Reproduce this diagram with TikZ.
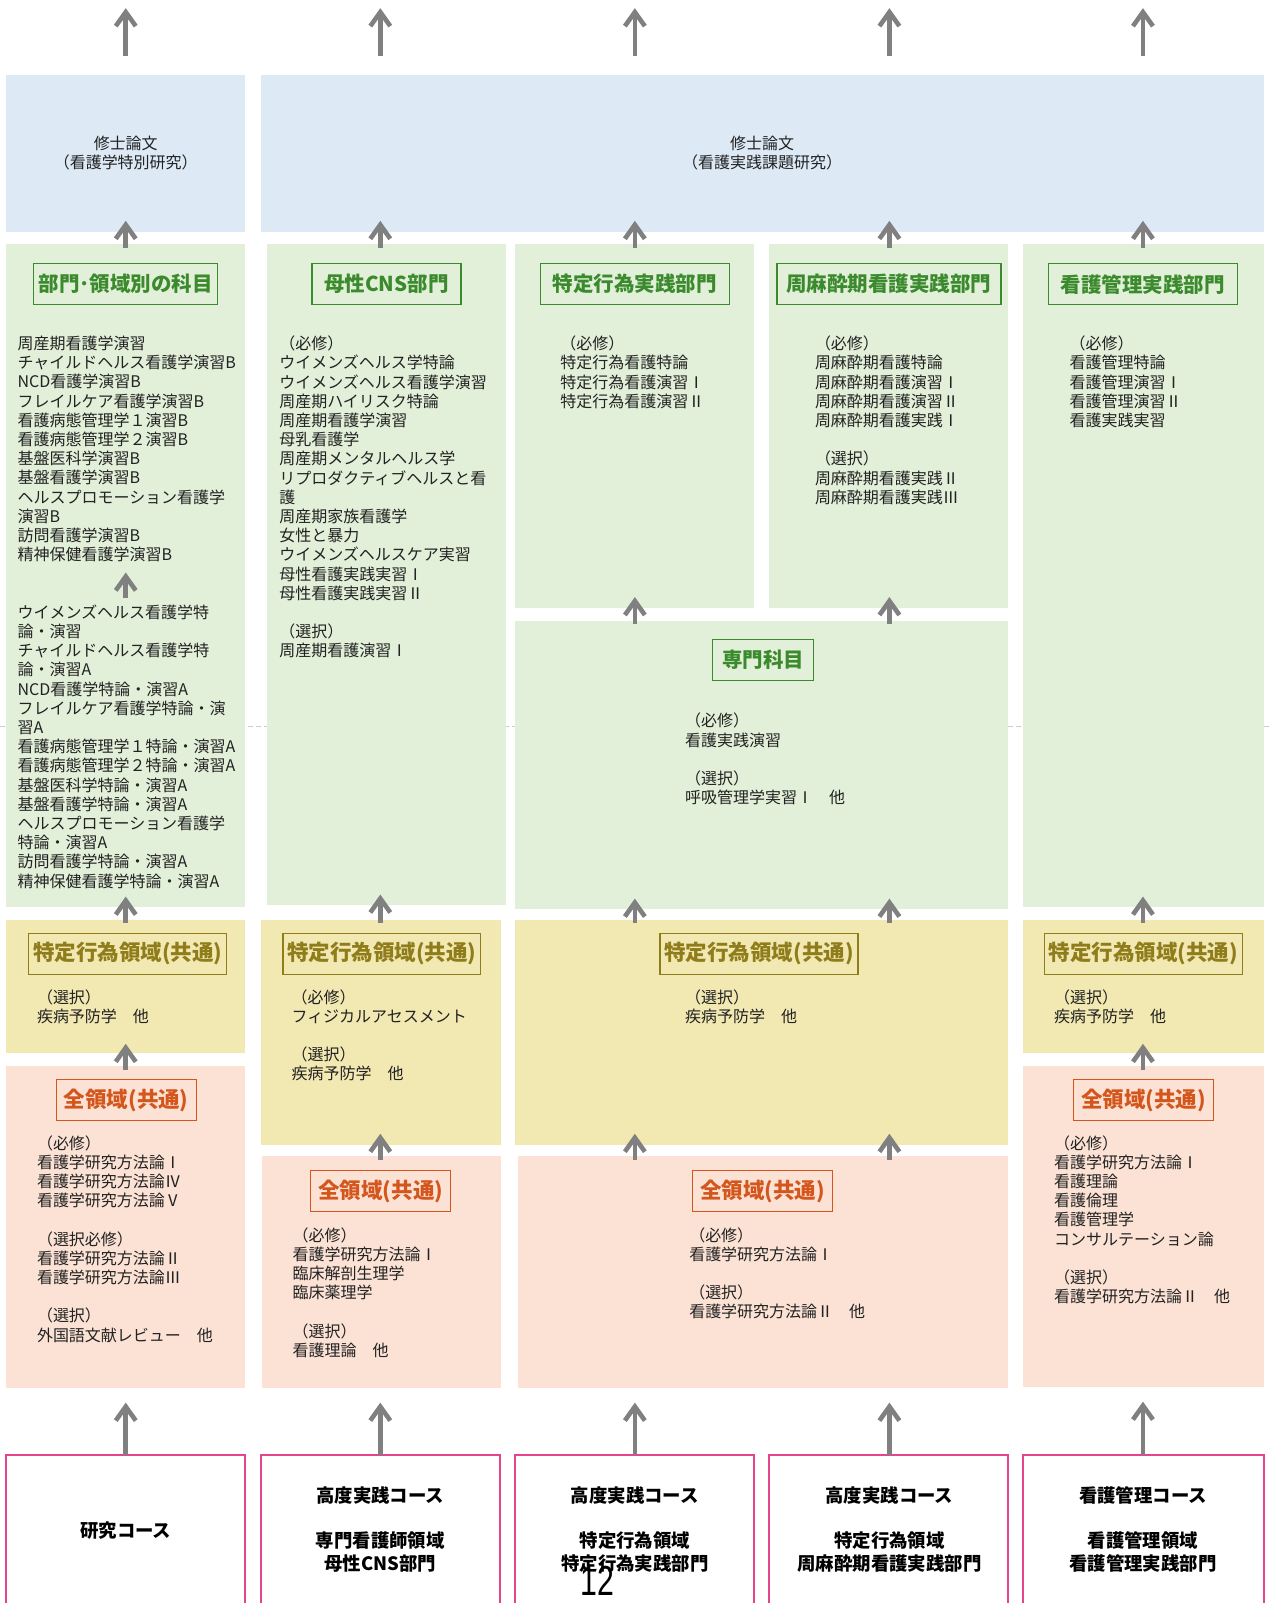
\documentclass[tikz,border=0pt]{standalone}
\usepackage{fontspec}
\usetikzlibrary{arrows.meta,calc,fit}
\newfontfamily\jp{Noto Sans CJK JP}
\newfontfamily\numfont[FakeStretch=0.72]{Liberation Sans}
\definecolor{bluebg}{HTML}{DDEAF6}
\definecolor{greenbg}{HTML}{E2F0D9}
\definecolor{yelbg}{HTML}{F2E8B2}
\definecolor{pinkbg}{HTML}{FBE2D5}
\definecolor{grhd}{HTML}{3B8A2E}
\definecolor{yehd}{HTML}{8F7D1C}
\definecolor{orhd}{HTML}{D4561C}
\definecolor{mag}{HTML}{E8438F}
\definecolor{arrgray}{HTML}{808080}
\definecolor{txt}{HTML}{222222}
\definecolor{dashgray}{HTML}{CCCCCC}
\begin{document}
\begin{tikzpicture}[x=1.0225pt,y=-1.0225pt,
  area/.style={inner sep=0pt,outer sep=0pt,draw=none},
  lst/.style={anchor=north west,inner sep=0pt,align=left,text=txt,font=\jp\fontsize{16}{19.2}\selectfont},
  bluetxt/.style={align=center,inner sep=0pt,text=txt,font=\jp\fontsize{16}{19}\selectfont},
  hd/.style={draw,line width=1.3pt,inner sep=0pt,minimum height=41pt,font=\jp\bfseries\fontsize{20.5}{24}\selectfont},
  hdg/.style={hd,draw=grhd,text=grhd},
  hdy/.style={hd,draw=yehd,text=yehd,font=\jp\bfseries\fontsize{21.5}{24}\selectfont},
  hdo/.style={hd,draw=orhd,text=orhd,font=\jp\bfseries\fontsize{21.5}{24}\selectfont},
  course/.style={align=center,inner sep=0pt,text=black,font=\jp\bfseries\fontsize{18.4}{22.5}\selectfont},
  arr/.style={draw=arrgray,line width=4.6pt,-{Straight Barb[length=14pt,width=20pt]}}]
\useasboundingbox (0,0) rectangle (1243,1568);
\fill[white] (0,0) rectangle (1243,1568);
\draw[dashgray,line width=1.2pt,dash pattern=on 5pt off 3pt] (0,711) -- (1243,711);
% column axes
\coordinate (c1) at (123,0);
\coordinate (c2) at (372,0);
\coordinate (c3) at (621,0);
\coordinate (c4) at (870,0);
\coordinate (c5) at (1118,0);
% blue
\node[area,fill=bluebg,fit={(6,73)(240,227)}] (bl1) {};
\node[area,fill=bluebg,fit={(255,73)(1236,227)}] (bl2) {};
% green
\node[area,fill=greenbg,fit={(6,239)(240,887)}] (g1) {};
\node[area,fill=greenbg,fit={(261,239)(495,885)}] (g2) {};
\node[area,fill=greenbg,fit={(504,239)(738,595)}] (g3) {};
\node[area,fill=greenbg,fit={(752,239)(986,595)}] (g4) {};
\node[area,fill=greenbg,fit={(1001,239)(1236,887)}] (g5) {};
\node[area,fill=greenbg,fit={(504,607)(986,889)}] (g34) {};
% yellow
\node[area,fill=yelbg,fit={(6,900)(240,1030)}] (y1) {};
\node[area,fill=yelbg,fit={(255,900)(490,1120)}] (y2) {};
\node[area,fill=yelbg,fit={(504,900)(986,1120)}] (y34) {};
\node[area,fill=yelbg,fit={(1001,900)(1236,1030)}] (y5) {};
% pink
\node[area,fill=pinkbg,fit={(6,1043)(240,1358)}] (p1) {};
\node[area,fill=pinkbg,fit={(256,1131)(490,1358)}] (p2) {};
\node[area,fill=pinkbg,fit={(507,1131)(986,1358)}] (p34) {};
\node[area,fill=pinkbg,fit={(1001,1043)(1236,1357)}] (p5) {};
% bottom course boxes
\node[area,draw=mag,line width=2pt,fill=white,fit={(6,1423)(240,1600)}] (b1) {};
\node[area,draw=mag,line width=2pt,fill=white,fit={(255,1423)(489,1600)}] (b2) {};
\node[area,draw=mag,line width=2pt,fill=white,fit={(504,1423)(738,1600)}] (b3) {};
\node[area,draw=mag,line width=2pt,fill=white,fit={(752,1423)(986,1600)}] (b4) {};
\node[area,draw=mag,line width=2pt,fill=white,fit={(1001,1423)(1236,1600)}] (b5) {};
% blue texts
\node[bluetxt] (bl1t) at (bl1.center) {修士論文\\（看護学特別研究）};
\node[bluetxt] (bl2t) at (bl2.center) {修士論文\\（看護実践課題研究）};
% headings
\node[hdg,minimum width=184pt] (h1) at (123,278) {部門･領域別の科目};
\node[hdg,minimum width=149pt] (h2) at (378,278) {母性CNS部門};
\node[hdg,minimum width=189pt] (h3) at (621,278) {特定行為実践部門};
\node[hdg,minimum width=224pt] (h4) at (869.5,278) {周麻酔期看護実践部門};
\node[hdg,minimum width=189pt] (h5) at (1118,278) {看護管理実践部門};
\node[hdg,minimum width=101pt] (h34) at (746.5,645.5) {専門科目};
\node[hdy,minimum width=198pt] (hy1) at (125,933) {特定行為領域(共通)};
\node[hdy,minimum width=198pt] (hy2) at (373.5,933) {特定行為領域(共通)};
\node[hdy,minimum width=198pt] (hy34) at (742.5,933) {特定行為領域(共通)};
\node[hdy,minimum width=198pt] (hy5) at (1118.5,933) {特定行為領域(共通)};
\node[hdo,minimum width=140pt] (hp1) at (123.5,1076) {全領域(共通)};
\node[hdo,minimum width=140pt] (hp2) at (372.5,1165) {全領域(共通)};
\node[hdo,minimum width=140pt] (hp34) at (746,1165) {全領域(共通)};
\node[hdo,minimum width=140pt] (hp5) at (1118.5,1076) {全領域(共通)};
% lists
\node[lst] (g1t) at (17,328.5) {周産期看護学演習\\チャイルドヘルス看護学演習B\\NCD看護学演習B\\フレイルケア看護学演習B\\看護病態管理学１演習B\\看護病態管理学２演習B\\基盤医科学演習B\\基盤看護学演習B\\ヘルスプロモーション看護学\\演習B\\訪問看護学演習B\\精神保健看護学演習B\\[38.4pt]ウイメンズヘルス看護学特\\論・演習\\チャイルドヘルス看護学特\\論・演習A\\NCD看護学特論・演習A\\フレイルケア看護学特論・演\\習A\\看護病態管理学１特論・演習A\\看護病態管理学２特論・演習A\\基盤医科学特論・演習A\\基盤看護学特論・演習A\\ヘルスプロモーション看護学\\特論・演習A\\訪問看護学特論・演習A\\精神保健看護学特論・演習A};
\node[lst] (g2t) at (273,328.5) {（必修）\\ウイメンズヘルス学特論\\ウイメンズヘルス看護学演習\\周産期ハイリスク特論\\周産期看護学演習\\母乳看護学\\周産期メンタルヘルス学\\リプロダクティブヘルスと看\\護\\周産期家族看護学\\女性と暴力\\ウイメンズヘルスケア実習\\母性看護実践実習Ⅰ\\母性看護実践実習Ⅱ\\[19.2pt]（選択）\\周産期看護演習Ⅰ};
\node[lst] (g3t) at (548,328.5) {（必修）\\特定行為看護特論\\特定行為看護演習Ⅰ\\特定行為看護演習Ⅱ};
\node[lst] (g4t) at (797,328.5) {（必修）\\周麻酔期看護特論\\周麻酔期看護演習Ⅰ\\周麻酔期看護演習Ⅱ\\周麻酔期看護実践Ⅰ\\[19.2pt]（選択）\\周麻酔期看護実践Ⅱ\\周麻酔期看護実践Ⅲ};
\node[lst] (g5t) at (1046,328.5) {（必修）\\看護管理特論\\看護管理演習Ⅰ\\看護管理演習Ⅱ\\看護実践実習};
\node[lst] (g34t) at (670,697.5) {（必修）\\看護実践演習\\[19.2pt]（選択）\\呼吸管理学実習Ⅰ　他};
\node[lst] (y1t) at (36,967.5) {（選択）\\疾病予防学　他};
\node[lst] (y2t) at (285,967.5) {（必修）\\フィジカルアセスメント\\[19.2pt]（選択）\\疾病予防学　他};
\node[lst] (y34t) at (670,967.5) {（選択）\\疾病予防学　他};
\node[lst] (y5t) at (1031,967.5) {（選択）\\疾病予防学　他};
\node[lst] (p1t) at (36,1110.5) {（必修）\\看護学研究方法論Ⅰ\\看護学研究方法論Ⅳ\\看護学研究方法論Ⅴ\\[19.2pt]（選択必修）\\看護学研究方法論Ⅱ\\看護学研究方法論Ⅲ\\[19.2pt]（選択）\\外国語文献レビュー　他};
\node[lst] (p2t) at (286,1200.5) {（必修）\\看護学研究方法論Ⅰ\\臨床解剖生理学\\臨床薬理学\\[19.2pt]（選択）\\看護理論　他};
\node[lst] (p34t) at (674,1200.5) {（必修）\\看護学研究方法論Ⅰ\\[19.2pt]（選択）\\看護学研究方法論Ⅱ　他};
\node[lst] (p5t) at (1031,1110.5) {（必修）\\看護学研究方法論Ⅰ\\看護理論\\看護倫理\\看護管理学\\コンサルテーション論\\[19.2pt]（選択）\\看護学研究方法論Ⅱ　他};
% course texts
\node[course] (b1t) at (123,1497) {研究コース};
\node[course] (b2t) at (372,1496) {高度実践コース\\[22.5pt]専門看護師領域\\母性CNS部門};
\node[course] (b3t) at (621,1496) {高度実践コース\\[22.5pt]特定行為領域\\特定行為実践部門};
\node[course] (b4t) at (870,1496) {高度実践コース\\[22.5pt]特定行為領域\\周麻酔期看護実践部門};
\node[course] (b5t) at (1118,1496) {看護管理コース\\[22.5pt]看護管理領域\\看護管理実践部門};
% page number
\node[inner sep=0pt,font=\numfont\fontsize{42}{42}\selectfont,text=black] (pg) at (584,1546) {12};
% arrows: top free ends
\coordinate (t1) at (123,8);
\coordinate (t2) at (372,8);
\coordinate (t3) at (621,8);
\coordinate (t4) at (870,8);
\coordinate (t5) at (1118,8);
\draw[arr] ($(c1 |- bl1.north)+(0,-18)$) -- (t1);
\draw[arr] ($(c2 |- bl2.north)+(0,-18)$) -- (t2);
\draw[arr] ($(c3 |- bl2.north)+(0,-18)$) -- (t3);
\draw[arr] ($(c4 |- bl2.north)+(0,-18)$) -- (t4);
\draw[arr] ($(c5 |- bl2.north)+(0,-18)$) -- (t5);
% green -> blue
\draw[arr] ($(c1 |- g1.north)+(0,4)$) -- ($(c1 |- bl1.south)+(0,-11)$);
\draw[arr] ($(c2 |- g2.north)+(0,4)$) -- ($(c2 |- bl2.south)+(0,-11)$);
\draw[arr] ($(c3 |- g3.north)+(0,4)$) -- ($(c3 |- bl2.south)+(0,-11)$);
\draw[arr] ($(c4 |- g4.north)+(0,4)$) -- ($(c4 |- bl2.south)+(0,-11)$);
\draw[arr] ($(c5 |- g5.north)+(0,4)$) -- ($(c5 |- bl2.south)+(0,-11)$);
% inside g1
\coordinate (g1lo) at (123,585);
\coordinate (g1hi) at (123,560);
\draw[arr] (g1lo) -- (g1hi);
% g34 -> g3, g4
\draw[arr] ($(c3 |- g34.north)+(0,3)$) -- ($(c3 |- g3.south)+(0,-11)$);
\draw[arr] ($(c4 |- g34.north)+(0,3)$) -- ($(c4 |- g4.south)+(0,-11)$);
% yellow -> green
\draw[arr] ($(c1 |- y1.north)+(0,3)$) -- ($(c1 |- g1.south)+(0,-10)$);
\draw[arr] ($(c2 |- y2.north)+(0,3)$) -- ($(c2 |- g2.south)+(0,-10)$);
\draw[arr] ($(c3 |- y34.north)+(0,3)$) -- ($(c3 |- g34.south)+(0,-10)$);
\draw[arr] ($(c4 |- y34.north)+(0,3)$) -- ($(c4 |- g34.south)+(0,-10)$);
\draw[arr] ($(c5 |- y5.north)+(0,3)$) -- ($(c5 |- g5.south)+(0,-10)$);
% pink -> yellow
\draw[arr] ($(c1 |- p1.north)+(0,4)$) -- ($(c1 |- y1.south)+(0,-9)$);
\draw[arr] ($(c2 |- p2.north)+(0,4)$) -- ($(c2 |- y2.south)+(0,-11)$);
\draw[arr] ($(c3 |- p34.north)+(0,4)$) -- ($(c3 |- y34.south)+(0,-11)$);
\draw[arr] ($(c4 |- p34.north)+(0,4)$) -- ($(c4 |- y34.south)+(0,-11)$);
\draw[arr] ($(c5 |- p5.north)+(0,4)$) -- ($(c5 |- y5.south)+(0,-9)$);
% course -> pink
\draw[arr] (c1 |- b1.north) -- ($(c1 |- p1.south)+(0,14)$);
\draw[arr] (c2 |- b2.north) -- ($(c2 |- p2.south)+(0,14)$);
\draw[arr] (c3 |- b3.north) -- ($(c3 |- p34.south)+(0,14)$);
\draw[arr] (c4 |- b4.north) -- ($(c4 |- p34.south)+(0,14)$);
\draw[arr] (c5 |- b5.north) -- ($(c5 |- p5.south)+(0,14)$);
\end{tikzpicture}
\end{document}
